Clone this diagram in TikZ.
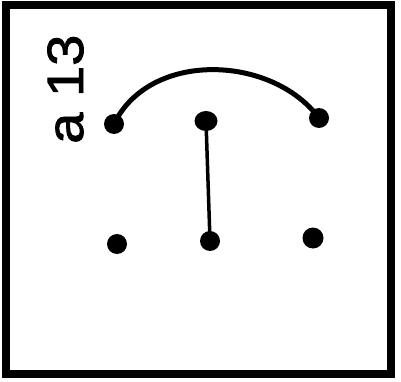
\documentclass[tikz,border=0pt]{standalone}
\usepackage{fontspec}
\setmainfont{Liberation Sans}
\newfontfamily\labfont{Liberation Sans}[FakeBold=1.6]
\usetikzlibrary{shapes.geometric}
\begin{document}
\begin{tikzpicture}[x=1pt,y=-1pt,
  dot/.style={circle,fill=black,inner sep=0pt,minimum size=20pt},
  bigdot/.style={ellipse,fill=black,inner sep=0pt,minimum width=23pt,minimum height=20pt},
  frameline/.style={line width=8.5pt},
  arcline/.style={line width=5pt,line cap=round},
  stick/.style={line width=3.5pt}]
\useasboundingbox (0,0) rectangle (401,382);
\fill[white] (0,0) rectangle (401,382);
\draw[frameline] (6,5) rectangle (391,374);
\node[rotate=90,anchor=base west,inner sep=0pt,xscale=1.1,font=\labfont\fontsize{51}{51}\selectfont] (lab) at (83,144) {a 13};
\node[dot] (tl) at (114,124) {};
\node[bigdot] (tm) at (206,121) {};
\node[dot] (tr) at (319,118) {};
\node[dot] (bl) at (117,244) {};
\node[dot] (bm) at (210,241) {};
\node[dot,minimum size=21pt] (br) at (313,238) {};
\draw[arcline] (tl.center) .. controls (150,50) and (272,55) .. (tr.center);
\draw[stick] (tm.center) -- (bm.center);
\end{tikzpicture}
\end{document}
